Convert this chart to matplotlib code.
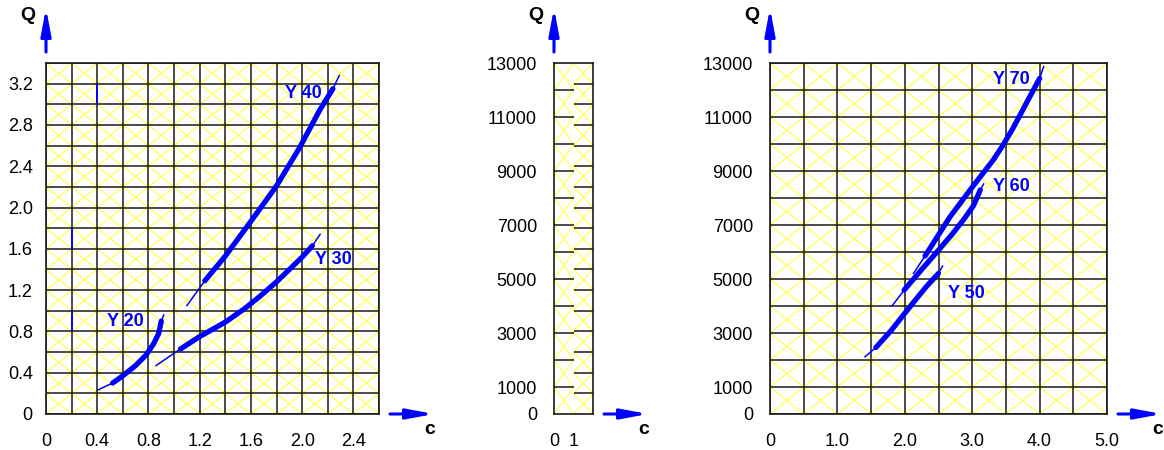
import matplotlib
matplotlib.use("Agg")
import matplotlib.pyplot as plt
import numpy as np
from matplotlib.collections import LineCollection

plt.rcParams["font.family"] = ["Liberation Sans", "DejaVu Sans"]

# --- data: curves (c, Q) ---
y20_c = [0.40, 0.52, 0.60, 0.70, 0.78, 0.84, 0.88, 0.90, 0.92]
y20_q = [0.23, 0.30, 0.37, 0.47, 0.57, 0.68, 0.78, 0.90, 0.96]
y30_c = [0.86, 1.05, 1.20, 1.40, 1.55, 1.67, 1.80, 1.90, 2.00, 2.08, 2.14]
y30_q = [0.47, 0.63, 0.75, 0.89, 1.02, 1.14, 1.28, 1.40, 1.52, 1.63, 1.74]
y40_c = [1.10, 1.24, 1.40, 1.59, 1.80, 1.98, 2.14, 2.24, 2.29]
y40_q = [1.05, 1.29, 1.53, 1.85, 2.21, 2.58, 2.95, 3.15, 3.28]

y50_c = [1.41, 1.57, 1.80, 1.98, 2.15, 2.32, 2.50, 2.56]
y50_q = [2120, 2460, 3100, 3670, 4200, 4720, 5210, 5480]
y60_c = [1.81, 1.99, 2.25, 2.50, 2.70, 2.87, 3.02, 3.12, 3.17]
y60_q = [4000, 4590, 5350, 6070, 6650, 7190, 7720, 8300, 8520]
y70_c = [2.13, 2.30, 2.67, 3.00, 3.31, 3.45, 3.60, 3.75, 3.88, 4.00, 4.06]
y70_q = [5210, 5850, 7300, 8400, 9400, 9930, 10560, 11260, 11870, 12430, 12860]

curve_labels = ["Y 20", "Y 30", "Y 40", "Y 50", "Y 60", "Y 70"]
label_c = [0.62, 2.24, 2.01, 2.92, 3.58, 3.58]
label_q = [0.90, 1.50, 3.10, 4460, 8430, 12400]

left_xticks = [0, 0.4, 0.8, 1.2, 1.6, 2.0, 2.4]
left_xlabels = ["0", "0.4", "0.8", "1.2", "1.6", "2.0", "2.4"]
left_yticks = [0, 0.4, 0.8, 1.2, 1.6, 2.0, 2.4, 2.8, 3.2]
left_ylabels = ["0", "0.4", "0.8", "1.2", "1.6", "2.0", "2.4", "2.8", "3.2"]
big_yticks = [0, 1000, 3000, 5000, 7000, 9000, 11000, 13000]
big_ylabels = ["0", "1000", "3000", "5000", "7000", "9000", "11000", "13000"]
mid_xticks = [0, 1]
mid_xlabels = ["0", "1"]
right_xticks = [0, 1, 2, 3, 4, 5]
right_xlabels = ["0", "1.0", "2.0", "3.0", "4.0", "5.0"]

# blue marks sitting on grid lines in the left panel
seg_c = [0.2, 0.2, 0.4]
seg_q0 = [0.8, 1.6, 3.0]
seg_q1 = [1.0, 1.8, 3.2]

W, H = 1164, 450
TOP, BOT = 63, 414
BLUE = "#0000ff"
YELLOW = "#ffff66"
GRID = "#1a1a1a"


def cell_grid(ax, xs, ys):
    diag = []
    for i in range(len(xs) - 1):
        for j in range(len(ys) - 1):
            diag.append([(xs[i], ys[j]), (xs[i + 1], ys[j + 1])])
            diag.append([(xs[i], ys[j + 1]), (xs[i + 1], ys[j])])
    ax.add_collection(LineCollection(diag, colors=YELLOW, linewidths=1.0, zorder=1))
    lines = [[(x, ys[0]), (x, ys[-1])] for x in xs] + [[(xs[0], y), (xs[-1], y)] for y in ys]
    ax.add_collection(LineCollection(lines, colors=GRID, linewidths=1.1, zorder=2))


def panel(left, right, xlim, ylim, ypad):
    ax = fig.add_axes([left / W, (H - BOT) / H, (right - left) / W, (BOT - TOP) / H])
    ax.set_xlim(*xlim)
    ax.set_ylim(*ylim)
    for s in ax.spines.values():
        s.set_color(GRID)
        s.set_linewidth(1.2)
        s.set_zorder(5)
    ax.tick_params(length=0, labelsize=13, colors="black")
    ax.tick_params(axis="y", pad=ypad)
    ax.tick_params(axis="x", pad=14)

    # axis arrows and names
    kw = dict(arrowstyle="-|>,head_length=1.6,head_width=0.3", color=BLUE,
              lw=2.2, mutation_scale=10, shrinkA=0, shrinkB=0)
    fig.add_artist(plt.Annotation("", xy=(left, H - 8), xytext=(left, H - 52),
                                  xycoords="figure pixels", arrowprops=kw))
    fig.add_artist(plt.Annotation("", xy=(right + 55, H - BOT), xytext=(right + 11, H - BOT),
                                  xycoords="figure pixels", arrowprops=kw))
    fig.text((left - 18) / W, (H - 15) / H, "Q", fontsize=14, fontweight="bold",
             ha="center", va="center")
    fig.text((right + 51) / W, (H - 430) / H, "c", fontsize=14, fontweight="bold",
             ha="center", va="center")
    return ax


def curve(ax, c, q):
    ax.plot(c, q, color=BLUE, lw=1.1, zorder=4)
    ax.plot(c[1:-1], q[1:-1], color=BLUE, lw=3.8, solid_capstyle="round",
            solid_joinstyle="round", zorder=4)


fig = plt.figure(figsize=(W / 100, H / 100), dpi=100)

# left panel
ax1 = panel(46, 379, (0, 2.6), (0, 3.4), 9.5)
cell_grid(ax1, np.linspace(0, 2.6, 14), np.linspace(0, 3.4, 18))
ax1.set_xticks(left_xticks, left_xlabels)
ax1.set_yticks(left_yticks, left_ylabels)
for c0, a, b in zip(seg_c, seg_q0, seg_q1):
    ax1.plot([c0, c0], [a, b], color=BLUE, lw=1.3, zorder=3)
curve(ax1, y20_c, y20_q)
curve(ax1, y30_c, y30_q)
curve(ax1, y40_c, y40_q)

# middle panel: two half columns with different row spacing
ax2 = panel(554, 593, (0, 2), (0, 13000), 12.2)
mid_l = np.linspace(0, 13000, 14)
mid_r = np.linspace(0, 13000, 18)
diag = []
for j in range(len(mid_l) - 1):
    diag.append([(0, mid_l[j]), (1, mid_l[j + 1])])
    diag.append([(0, mid_l[j + 1]), (1, mid_l[j])])
for j in range(len(mid_r) - 1):
    diag.append([(1, mid_r[j]), (2, mid_r[j + 1])])
    diag.append([(1, mid_r[j + 1]), (2, mid_r[j])])
ax2.add_collection(LineCollection(diag, colors=YELLOW, linewidths=1.0, zorder=1))
rows = [[(0, y), (1, y)] for y in mid_l[1:-1]] + [[(1.05, y), (2, y)] for y in mid_r[1:-1]]
ax2.add_collection(LineCollection(rows, colors=GRID, linewidths=1.1, zorder=2))
ax2.set_xticks(mid_xticks, mid_xlabels)
ax2.set_yticks(big_yticks, big_ylabels)

# right panel
ax3 = panel(770, 1107, (0, 5), (0, 13000), 12.2)
cell_grid(ax3, np.linspace(0, 5, 11), np.linspace(0, 13000, 14))
ax3.set_xticks(right_xticks, right_xlabels)
ax3.set_yticks(big_yticks, big_ylabels)
curve(ax3, y50_c, y50_q)
curve(ax3, y60_c, y60_q)
curve(ax3, y70_c, y70_q)

for i, (txt, lc, lq) in enumerate(zip(curve_labels, label_c, label_q)):
    ax = ax1 if i < 3 else ax3
    ax.text(lc, lq, txt, color=BLUE, fontsize=13, fontweight="bold",
            ha="center", va="center", zorder=6)

fig.savefig("out.png", dpi=100)
